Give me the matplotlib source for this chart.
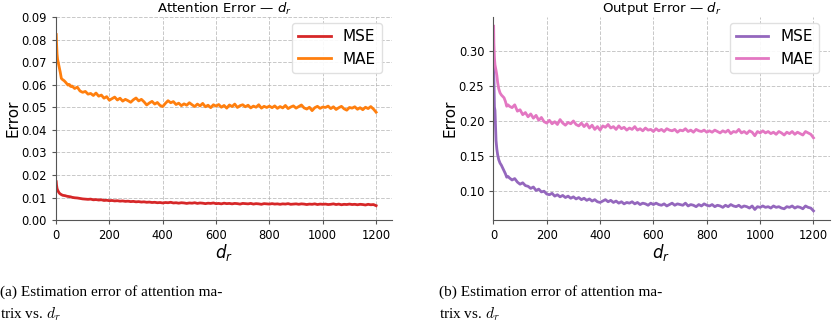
import matplotlib
matplotlib.use("Agg")
import matplotlib.pyplot as plt

# d_r grid: dense at the start, then every 10
dr = [1, 2, 4, 6, 8, 10, 13, 16, 20, 25, 30, 35, 40, 45, 50, 55] + list(range(60, 1201, 10))

att_mse = [
    0.0170, 0.0155, 0.0140, 0.0133, 0.0128, 0.0124, 0.0119, 0.0116, 0.0113, 0.0110, 0.0109, 0.0108, 0.0106, 0.0105, 0.0104, 0.0103,
    0.0101, 0.0099, 0.0098, 0.0096, 0.0094,
    0.0093, 0.0092, 0.0093, 0.0090, 0.0091, 0.0089, 0.0090, 0.0087, 0.0088, 0.0086,
    0.0087, 0.0085, 0.0086, 0.0084, 0.0085, 0.0083, 0.0084, 0.0082, 0.0083, 0.0081,
    0.0082, 0.0080, 0.0081, 0.0079, 0.0080, 0.0078, 0.0079, 0.0077, 0.0078, 0.0076,
    0.0078, 0.0077, 0.0079, 0.0076, 0.0077, 0.0075, 0.0077, 0.0076, 0.0074, 0.0076,
    0.0075, 0.0077, 0.0074, 0.0076, 0.0075, 0.0073, 0.0075, 0.0074, 0.0076, 0.0073,
    0.0074, 0.0072, 0.0075, 0.0073, 0.0074, 0.0072, 0.0074, 0.0073, 0.0071, 0.0074,
    0.0073, 0.0072, 0.0074, 0.0071, 0.0073, 0.0072, 0.0070, 0.0073, 0.0072, 0.0071,
    0.0073, 0.0071, 0.0072, 0.0070, 0.0072, 0.0071, 0.0073, 0.0070, 0.0071, 0.0072,
    0.0070, 0.0072, 0.0071, 0.0069, 0.0071, 0.0070, 0.0072, 0.0069, 0.0071, 0.0070,
    0.0071, 0.0069, 0.0070, 0.0072, 0.0069, 0.0071, 0.0068, 0.0070, 0.0069, 0.0071,
    0.0069, 0.0070, 0.0068, 0.0070, 0.0069, 0.0067, 0.0070, 0.0068, 0.0069, 0.0064,
]

att_mae = [
    0.0822, 0.0785, 0.0735, 0.0712, 0.0700, 0.0690, 0.0672, 0.0655, 0.0628, 0.0622, 0.0618, 0.0612, 0.0605, 0.0598, 0.0601, 0.0592,
    0.0594, 0.0583, 0.0589, 0.0572, 0.0566,
    0.0570, 0.0558, 0.0561, 0.0552, 0.0563, 0.0549, 0.0554, 0.0540, 0.0547, 0.0531,
    0.0538, 0.0545, 0.0532, 0.0540, 0.0527, 0.0535, 0.0529, 0.0522, 0.0533, 0.0541,
    0.0528, 0.0535, 0.0524, 0.0510, 0.0519, 0.0526, 0.0514, 0.0521, 0.0508, 0.0503,
    0.0517, 0.0529, 0.0520, 0.0525, 0.0512, 0.0518, 0.0507, 0.0515, 0.0509, 0.0520,
    0.0511, 0.0503, 0.0514, 0.0506, 0.0517, 0.0502, 0.0509, 0.0498, 0.0511, 0.0505,
    0.0512, 0.0500, 0.0508, 0.0496, 0.0510, 0.0503, 0.0514, 0.0499, 0.0507, 0.0511,
    0.0502, 0.0509, 0.0497, 0.0505, 0.0500, 0.0511, 0.0496, 0.0504, 0.0499, 0.0505,
    0.0498, 0.0506, 0.0495, 0.0503, 0.0497, 0.0508, 0.0494, 0.0501, 0.0506, 0.0496,
    0.0503, 0.0510, 0.0497, 0.0492, 0.0500, 0.0485, 0.0498, 0.0504, 0.0495, 0.0501,
    0.0499, 0.0505, 0.0494, 0.0502, 0.0490, 0.0498, 0.0504, 0.0493, 0.0487, 0.0499,
    0.0496, 0.0502, 0.0491, 0.0498, 0.0489, 0.0500, 0.0494, 0.0503, 0.0492, 0.0478,
]

out_mse = [
    0.2900, 0.2600, 0.2200, 0.2150, 0.1950, 0.1720, 0.1600, 0.1520, 0.1450, 0.1400, 0.1370, 0.1330, 0.1290, 0.1250, 0.1200, 0.1210,
    0.1190, 0.1160, 0.1180, 0.1130, 0.1100,
    0.1120, 0.1080, 0.1070, 0.1040, 0.1060, 0.1010, 0.1030, 0.0990, 0.1000, 0.0960,
    0.0950, 0.0970, 0.0930, 0.0950, 0.0920, 0.0940, 0.0910, 0.0930, 0.0900, 0.0920,
    0.0890, 0.0910, 0.0880, 0.0900, 0.0870, 0.0890, 0.0860, 0.0880, 0.0850, 0.0840,
    0.0860, 0.0880, 0.0850, 0.0870, 0.0840, 0.0860, 0.0830, 0.0850, 0.0820, 0.0840,
    0.0830, 0.0850, 0.0820, 0.0840, 0.0810, 0.0830, 0.0820, 0.0800, 0.0830, 0.0810,
    0.0830, 0.0810, 0.0800, 0.0820, 0.0790, 0.0810, 0.0830, 0.0800, 0.0820, 0.0810,
    0.0800, 0.0830, 0.0790, 0.0810, 0.0800, 0.0780, 0.0810, 0.0790, 0.0820, 0.0800,
    0.0790, 0.0810, 0.0780, 0.0800, 0.0790, 0.0770, 0.0800, 0.0780, 0.0810, 0.0790,
    0.0780, 0.0800, 0.0770, 0.0790, 0.0780, 0.0760, 0.0790, 0.0740, 0.0780, 0.0770,
    0.0790, 0.0770, 0.0780, 0.0760, 0.0790, 0.0770, 0.0780, 0.0760, 0.0750, 0.0780,
    0.0770, 0.0790, 0.0760, 0.0780, 0.0770, 0.0750, 0.0790, 0.0770, 0.0760, 0.0720,
]

out_mae = [
    0.3350, 0.3100, 0.2900, 0.2800, 0.2760, 0.2720, 0.2650, 0.2550, 0.2460, 0.2400, 0.2370, 0.2350, 0.2330, 0.2280, 0.2210, 0.2230,
    0.2210, 0.2190, 0.2230, 0.2140, 0.2160,
    0.2090, 0.2120, 0.2060, 0.2100, 0.2040, 0.2080, 0.2010, 0.2050, 0.1990, 0.1970,
    0.2010, 0.1960, 0.1990, 0.1950, 0.2020, 0.1970, 0.1940, 0.1980, 0.1960, 0.2000,
    0.1950, 0.1930, 0.1970, 0.1920, 0.1960, 0.1900, 0.1940, 0.1880, 0.1920, 0.1870,
    0.1930, 0.1910, 0.1950, 0.1900, 0.1920, 0.1880, 0.1930, 0.1890, 0.1910, 0.1870,
    0.1900, 0.1880, 0.1920, 0.1870, 0.1890, 0.1860, 0.1900, 0.1870, 0.1880, 0.1850,
    0.1890, 0.1860, 0.1880, 0.1850, 0.1890, 0.1870, 0.1860, 0.1880, 0.1840, 0.1870,
    0.1860, 0.1890, 0.1850, 0.1870, 0.1840, 0.1880, 0.1860, 0.1850, 0.1870, 0.1840,
    0.1860, 0.1840, 0.1870, 0.1850, 0.1830, 0.1860, 0.1840, 0.1870, 0.1820, 0.1850,
    0.1840, 0.1880, 0.1830, 0.1850, 0.1820, 0.1860, 0.1840, 0.1790, 0.1850, 0.1830,
    0.1860, 0.1830, 0.1850, 0.1820, 0.1840, 0.1810, 0.1850, 0.1830, 0.1800, 0.1840,
    0.1820, 0.1850, 0.1810, 0.1840, 0.1820, 0.1800, 0.1850, 0.1830, 0.1810, 0.1760,
]

titles = [r"Attention Error — $d_r$", r"Output Error — $d_r$"]
captions = ["(a) Estimation error of attention ma-\ntrix vs. $d_r$",
            "(b) Estimation error of attention ma-\ntrix vs. $d_r$"]

plt.rcParams["mathtext.fontset"] = "dejavusans"

fig = plt.figure(figsize=(8.32, 3.32), dpi=100)
ax1 = fig.add_axes([0.0673, 0.337, 0.404, 0.612])
ax2 = fig.add_axes([0.593, 0.337, 0.404, 0.612])

panels = [
    (ax1, att_mse, att_mae, "#d62728", "#ff7f0e"),
    (ax2, out_mse, out_mae, "#9467bd", "#e377c2"),
]

for i, (ax, mse, mae, c_mse, c_mae) in enumerate(panels):
    ax.plot(dr, mse, color=c_mse, lw=2.0, label="MSE")
    ax.plot(dr, mae, color=c_mae, lw=2.0, label="MAE")
    ax.set_xlim(0, 1260)
    ax.set_xticks([0, 200, 400, 600, 800, 1000, 1200])
    ax.grid(True, linestyle="--", color="#b0b0b0", alpha=0.7, lw=0.7)
    for s in ["top", "right"]:
        ax.spines[s].set_visible(False)
    for s in ["left", "bottom"]:
        ax.spines[s].set_color("#555555")
    ax.tick_params(labelsize=8.3, length=3, color="#555555")
    ax.set_title(titles[i], fontsize=9.5, pad=3)
    ax.set_xlabel("$d_r$", fontsize=12, labelpad=0)
    ax.set_ylabel("Error", fontsize=11, labelpad=1)
    ax.legend(loc="upper right", fontsize=11, framealpha=0.9, edgecolor="#dddddd",
              handlelength=2.1, borderpad=0.4, borderaxespad=0,
              bbox_to_anchor=(0.97, 0.97))

ax1.set_ylim(0, 0.09)
ax1.set_yticks([0.00, 0.01, 0.02, 0.03, 0.04, 0.05, 0.06, 0.07, 0.08, 0.09])
ax2.set_yticks([0.10, 0.15, 0.20, 0.25, 0.30])

cap_font = dict(family="Liberation Serif", fontsize=11, va="top", linespacing=1.45)
with plt.rc_context({"mathtext.fontset": "cm"}):
    fig.text(0.0, 0.14, captions[0], **cap_font)
    fig.text(0.528, 0.14, captions[1], **cap_font)

fig.savefig("out.png", dpi=100)
